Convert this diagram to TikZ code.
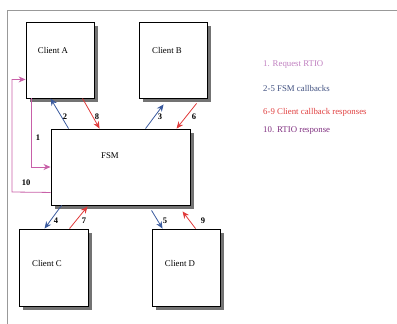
\documentclass[tikz,border=0pt]{standalone}
\usepackage{fontspec}
\setmainfont{Liberation Serif}
\usetikzlibrary{shadows,calc,arrows.meta}
\definecolor{cblue}{HTML}{3A5A9E}
\definecolor{cred}{HTML}{E03A3A}
\definecolor{cmag}{HTML}{C860A8}
\definecolor{lpink}{HTML}{C080C0}
\definecolor{lblue}{HTML}{405080}
\definecolor{lred}{HTML}{E04040}
\definecolor{lpurp}{HTML}{803080}
\begin{document}
\begin{tikzpicture}[x=1pt,y=-1pt,
  box/.style={draw=black, line width=0.9pt, fill=white, inner sep=0pt,
    general shadow={fill=black!55, shadow xshift=4pt, shadow yshift=-4pt}},
  lbl/.style={font=\fontsize{8.8}{10}\selectfont, inner sep=0pt},
  num/.style={font=\fontsize{8.5}{10}\selectfont\bfseries, inner sep=0pt},
  arr/.style={-{Stealth[length=7pt,width=6pt]}, line width=0.8pt}]
\useasboundingbox (0,0) rectangle (397,324);
\draw[black!40, line width=0.8pt] (397,10) -- (7,10) -- (7,324);
% boxes
\node[box, minimum width=68pt, minimum height=76pt] (A) at (60,60) {};
\node[box, minimum width=68pt, minimum height=76pt] (B) at (173,60) {};
\node[box, minimum width=139pt, minimum height=76pt] (FSM) at (120.5,167) {};
\node[box, minimum width=69pt, minimum height=77pt] (C) at (53.5,267.5) {};
\node[box, minimum width=68pt, minimum height=77pt] (D) at (186,267.5) {};
% box texts
\node[lbl] (tA) at (53,50) {Client A};
\node[lbl] (tB) at (167,50) {Client B};
\node[lbl] (tF) at (110,156) {FSM};
\node[lbl] (tC) at (47,263) {Client C};
\node[lbl] (tD) at (180,263) {Client D};
% arrow 1 and 10
\coordinate (k10) at (12,192);
\draw[arr, cmag] ($(A.south west)+(6,0)$) |- (FSM.west);
\draw[arr, cmag] ($(FSM.south west)+(0,-13)$) -- (k10) |- ($(A.south west)+(0,-19)$);
% arrows A
\draw[arr, cblue] ($(FSM.north west)+(18,0)$) -- ($(A.south west)+(25,0)$);
\draw[arr, cred] ($(A.south west)+(57,0)$) -- ($(FSM.north west)+(49,0)$);
% arrows B
\draw[arr, cblue] ($(FSM.north west)+(95,0)$) -- ($(B.south west)+(25,6)$);
\draw[arr, cred] ($(B.south west)+(58,5)$) -- ($(FSM.north west)+(126,0)$);
% arrows C
\draw[arr, cblue] ($(FSM.south west)+(11,0)$) -- ($(C.north west)+(26,0)$);
\draw[arr, cred] ($(C.north west)+(51,0)$) -- ($(FSM.south west)+(37,1)$);
% arrows D
\draw[arr, cblue] ($(FSM.south west)+(101,5)$) -- ($(D.north west)+(11,0)$);
\draw[arr, cred] ($(D.north west)+(44,0)$) -- ($(FSM.south west)+(132,6)$);
% numbers
\node[num] (n1) at (38,138) {1};
\node[num] (n10) at (26,183) {10};
\node[num] (n2) at (65,117) {2};
\node[num] (n8) at (97,117) {8};
\node[num] (n3) at (160,117) {3};
\node[num] (n6) at (194,117) {6};
\node[num] (n4) at (56,221) {4};
\node[num] (n7) at (84,221) {7};
\node[num] (n5) at (165,221) {5};
\node[num] (n9) at (203,221) {9};
% legend
\node[lbl, anchor=west, text=lpink] (l1) at (263,65) {1. Request RTIO};
\node[lbl, anchor=west, text=lblue] (l2) at (263,88) {2-5 FSM callbacks};
\node[lbl, anchor=west, text=lred] (l3) at (263,112) {6-9 Client callback responses};
\node[lbl, anchor=west, text=lpurp] (l4) at (263,131) {10. RTIO response};
\end{tikzpicture}
\end{document}
